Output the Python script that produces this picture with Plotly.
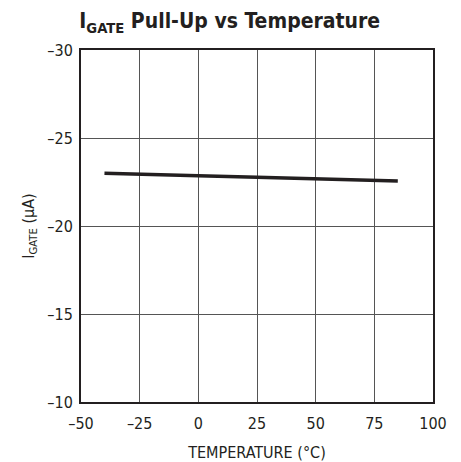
import plotly.graph_objects as go

temperature = [-40, -25, 0, 25, 50, 75, 85]
i_gate = [-23.0, -22.93, -22.85, -22.77, -22.69, -22.61, -22.56]

x_ticks = [-50, -25, 0, 25, 50, 75, 100]
x_labels = ["–50", "–25", "0", "25", "50", "75", "100"]
y_ticks = [-30, -25, -20, -15, -10]
y_labels = ["–30", "–25", "–20", "–15", "–10"]

FONT = "DejaVu Sans Condensed, Liberation Sans Narrow, Roboto, Arial, sans-serif"

fig = go.Figure()
fig.add_trace(go.Scatter(x=temperature, y=i_gate, mode="lines",
                         line=dict(color="#231f20", width=3.5), showlegend=False))

fig.update_layout(
    width=461, height=462,
    margin=dict(l=81, r=28, t=50, b=60, autoexpand=False),
    paper_bgcolor="white", plot_bgcolor="white",
    font=dict(family=FONT, size=16, color="#231f20"),
    title=dict(text="<b>I<sub>GATE</sub> Pull-Up vs Temperature</b>",
               font=dict(family=FONT, size=21, color="#231f20"),
               x=0.172, xanchor="left", y=0.955, yanchor="middle"),
)
fig.update_xaxes(range=[-50, 100], tickvals=x_ticks, ticktext=x_labels,
                 showgrid=True, gridcolor="#555555", gridwidth=1,
                 showline=True, linecolor="#231f20", linewidth=2, mirror=True,
                 ticks="", zeroline=False, automargin=False, ticklabelstandoff=6,
                 title=dict(text="TEMPERATURE (°C)", font=dict(size=16), standoff=16))
fig.update_yaxes(range=[-10, -30], tickvals=y_ticks, ticktext=y_labels,
                 showgrid=True, gridcolor="#555555", gridwidth=1,
                 showline=True, linecolor="#231f20", linewidth=2, mirror=True,
                 ticks="", zeroline=False, automargin=False, ticklabelstandoff=3,
                 title=dict(text="I<sub>GATE</sub> (µA)", font=dict(size=16), standoff=9))

fig.write_html("out.html", config={"displayModeBar": False},
               post_script="document.body.style.margin='0';")
